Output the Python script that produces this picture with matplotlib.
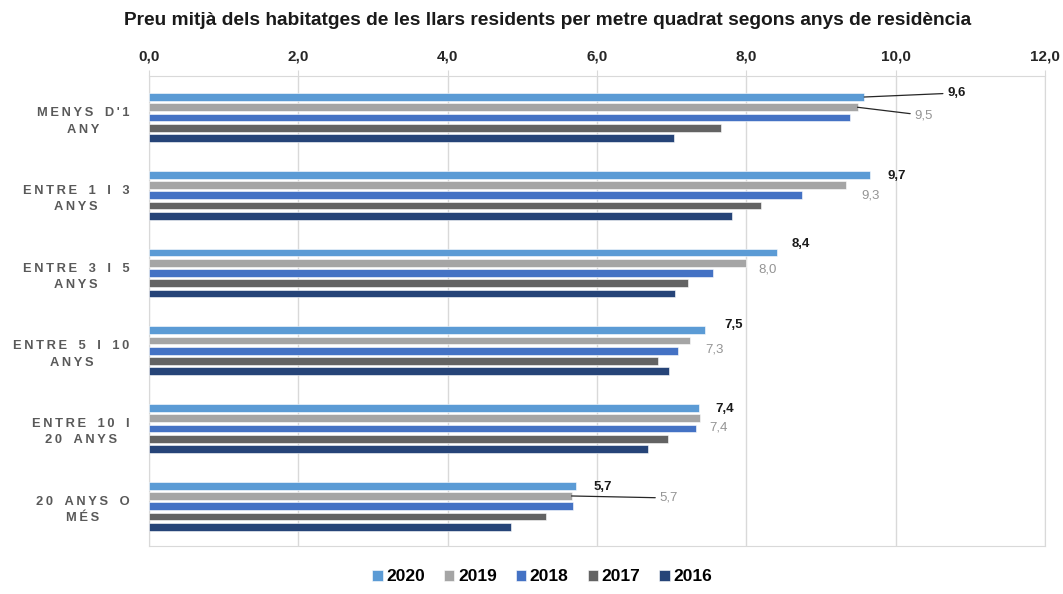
#Preu mitja per m2 segons anys de residencia - barres horitzontals agrupades

import matplotlib.pyplot as plt
import numpy as np

#dades
categories = ["MENYS D'1\nANY", "ENTRE 1 I 3\nANYS", "ENTRE 3 I 5\nANYS",
              "ENTRE 5 I 10\nANYS", "ENTRE 10 I\n20 ANYS", "20 ANYS O\nMÉS"]
years = ["2020", "2019", "2018", "2017", "2016"]
v2020 = [9.58, 9.66, 8.41, 7.45, 7.36, 5.72]
v2019 = [9.49, 9.33, 7.99, 7.25, 7.38, 5.66]
v2018 = [9.39, 8.75, 7.56, 7.08, 7.32, 5.68]
v2017 = [7.66, 8.20, 7.22, 6.82, 6.95, 5.32]
v2016 = [7.03, 7.81, 7.05, 6.97, 6.68, 4.85]
lab2020 = ["9,6", "9,7", "8,4", "7,5", "7,4", "5,7"]
lab2019 = ["9,5", "9,3", "8,0", "7,3", "7,4", "5,7"]
xticks = [0, 2, 4, 6, 8, 10, 12]
xticklabels = ["0,0", "2,0", "4,0", "6,0", "8,0", "10,0", "12,0"]

series = [v2020, v2019, v2018, v2017, v2016]
colors = ['#5b9bd5', '#a5a5a5', '#4472c4', '#636363', '#264478']

#posicio de les etiquetes (pixels respecte al final de la barra, y cap amunt)
off2020 = [(92, 4), (27, -1), (24, 8), (28, 5), (26, -1), (27, -1)]
off2019 = [(66, -8), (25, -10), (22, -7), (24, -9), (18, -9), (97, -2)]
lead2020 = [True, False, False, False, False, False]
lead2019 = [True, False, False, False, False, True]

plt.rcParams['font.family'] = ['Liberation Sans', 'DejaVu Sans']

fig = plt.figure(figsize=(10.63, 5.94), dpi=100)
ax = fig.add_axes([0.1402, 0.081, 0.8428, 0.7905])

y = np.arange(len(categories))
step = 0.132
h = 0.1
for j in range(len(series)):
    ax.barh(y + (j - 2) * step, series[j], height=h, color=colors[j], label=years[j],
            edgecolor='white', linewidth=0.4, zorder=3)

#etiquetes de dades
for i in range(len(categories)):
    yb = y[i] - 2 * step
    ap = dict(arrowstyle='-', color='#262626', lw=0.9, shrinkA=1, shrinkB=0) if lead2020[i] else None
    ax.annotate(lab2020[i], xy=(v2020[i], yb), xytext=off2020[i], textcoords='offset pixels',
                ha='center', va='center', fontsize=9.5, fontweight='bold', color='#1a1a1a',
                arrowprops=ap, zorder=5)
    yb = y[i] - step
    ap = dict(arrowstyle='-', color='#262626', lw=0.9, shrinkA=1, shrinkB=0) if lead2019[i] else None
    ax.annotate(lab2019[i], xy=(v2019[i], yb), xytext=off2019[i], textcoords='offset pixels',
                ha='center', va='center', fontsize=9.5, color='#949494',
                arrowprops=ap, zorder=5)

ax.set_xlim(0, 12)
ax.set_ylim(5.51, -0.53)
ax.xaxis.tick_top()
ax.set_xticks(xticks)
ax.set_xticklabels(xticklabels, fontsize=11, fontweight='bold', color='#262626')
ax.tick_params(axis='x', length=4, color='#d9d9d9', pad=5)
ax.grid(axis='x', color='#d9d9d9', lw=1, zorder=0)

#categories amb espaiat entre lletres
spaced = ['\n'.join(['\u2009'.join(' \u2009' if c == ' ' else c for c in line) for line in cat.split('\n')])
          for cat in categories]
ax.set_yticks(y)
ax.set_yticklabels(spaced, fontsize=9.3, fontweight='bold', color='#595959',
                   multialignment='center', linespacing=1.5)
ax.tick_params(axis='y', length=0, pad=14)

for s in ax.spines.values():
    s.set_color('#d9d9d9')

fig.text(0.515, 0.965, 'Preu mitjà dels habitatges de les llars residents per metre quadrat segons anys de residència',
         ha='center', va='center', fontsize=13.8, fontweight='bold', color='#1a1a1a')

fig.legend(loc='lower center', bbox_to_anchor=(0.51, -0.01), ncol=5, frameon=False,
           handlelength=0.6, handleheight=0.6, columnspacing=1.1, handletextpad=0.2,
           prop={'size': 12.5, 'weight': 'bold'})

plt.savefig('out.png', dpi=100)
